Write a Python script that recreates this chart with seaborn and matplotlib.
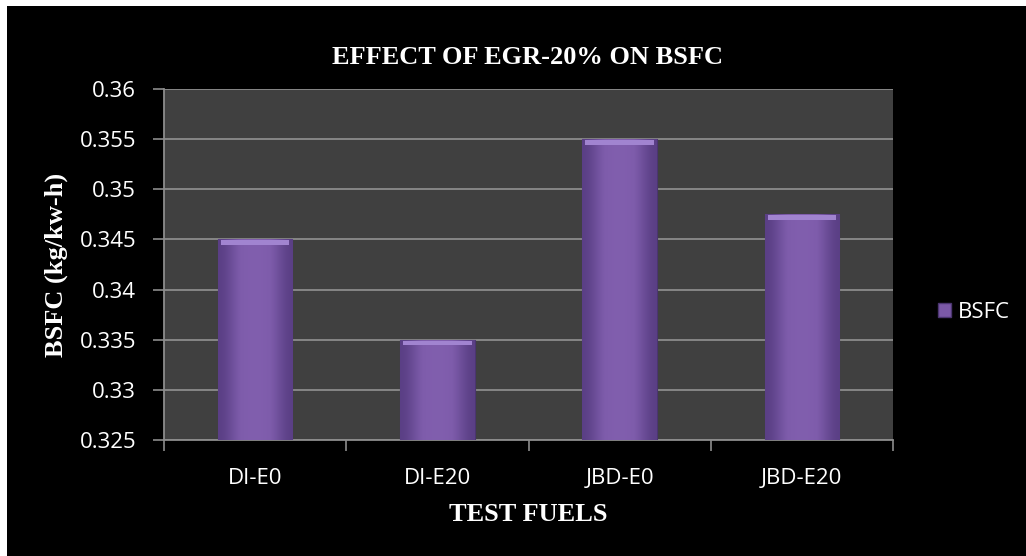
import numpy as np
import pandas as pd
import matplotlib
matplotlib.use("Agg")
import matplotlib.pyplot as plt
import matplotlib.patches as mpatches
import seaborn as sns

fuels = ["DI-E0", "DI-E20", "JBD-E0", "JBD-E20"]
bsfc = [0.345, 0.335, 0.355, 0.3475]
yticks = [0.325, 0.33, 0.335, 0.34, 0.345, 0.35, 0.355, 0.36]
ytick_labels = ["0.325", "0.33", "0.335", "0.34", "0.345", "0.35", "0.355", "0.36"]

df = pd.DataFrame({"fuel": fuels, "BSFC": bsfc})

sns.set_theme(style="dark")
serif = ["Liberation Serif", "DejaVu Serif"]
sans = ["Open Sans", "DejaVu Sans"]

W, H = 1026, 556
fig = plt.figure(figsize=(W / 100, H / 100), dpi=100, facecolor="white")
# black chart area inside a thin white margin
fig.patches.append(mpatches.Rectangle((7 / W, 0), 1 - 7 / W, 1 - 6 / H,
                                      transform=fig.transFigure,
                                      facecolor="black", edgecolor="none", zorder=-10))

ax = fig.add_axes([164 / W, (H - 440) / H, (893 - 164) / W, (440 - 89) / H])
ax.set_facecolor("#404040")

bar_color = "#7b59a7"
sns.barplot(data=df, x="fuel", y="BSFC", color=bar_color, width=0.41,
            ax=ax, zorder=3, edgecolor="#4b3570", linewidth=0.8)

ymin, ymax = 0.325, 0.36
ax.set_xlim(-0.5, len(fuels) - 0.5)
ax.set_ylim(ymin, ymax)

# soft bevel: horizontal shading across each bar plus a light top cap
grad = np.array([[0.0, 0.35, 0.6, 0.7, 0.6, 0.35, 0.0]])
cmap = matplotlib.colors.LinearSegmentedColormap.from_list(
    "bevel", ["#5a3f85", "#7e5cab", "#8663b3"])
for p in list(ax.patches):
    x0, w = p.get_x(), p.get_width()
    top = p.get_y() + p.get_height()
    clip = mpatches.Rectangle((x0, ymin), w, top - ymin, transform=ax.transData)
    im = ax.imshow(grad, cmap=cmap, aspect="auto", extent=(x0, x0 + w, ymin, top),
                   zorder=3.5, interpolation="bicubic", vmin=0, vmax=1)
    im.set_clip_path(clip)
    cap = mpatches.Rectangle((x0 + w * 0.04, top - 0.00055), w * 0.92, 0.00045,
                             facecolor="#a184d0", edgecolor="none", zorder=4)
    ax.add_patch(cap)

ax.set_xlim(-0.5, len(fuels) - 0.5)
ax.set_ylim(ymin, ymax)
ax.set_yticks(yticks)
ax.set_yticklabels(ytick_labels)
ax.yaxis.grid(True, color="#8c8c8c", linewidth=1.3, zorder=1)
ax.xaxis.grid(False)
ax.set_axisbelow(True)

for side in ["top", "right"]:
    ax.spines[side].set_visible(False)
for side in ["left", "bottom"]:
    ax.spines[side].set_visible(True)
    ax.spines[side].set_color("#8c8c8c")
    ax.spines[side].set_linewidth(1.3)

ax.tick_params(axis="y", which="major", left=True, length=8, width=1.2,
               color="#8c8c8c", labelcolor="white", labelsize=16, pad=12)
ax.tick_params(axis="x", which="major", bottom=False, labelcolor="white",
               labelsize=16, pad=14)
ax.set_xticks(np.arange(-0.5, len(fuels)), minor=True)
ax.tick_params(axis="x", which="minor", bottom=True, length=8, width=1.2,
               color="#8c8c8c", direction="out")
for lab in ax.get_xticklabels() + ax.get_yticklabels():
    lab.set_family(sans)

ax.set_xlabel("TEST FUELS", family=serif, fontweight="bold", fontsize=19,
              color="white", labelpad=10)
ax.set_ylabel("BSFC (kg/kw-h)", family=serif, fontweight="bold", fontsize=19,
              color="white", labelpad=8)
fig.text(528 / W, 1 - 57 / H, "EFFECT OF EGR-20% ON BSFC", family=serif,
         fontweight="bold", fontsize=19, color="white", ha="center", va="center")

handle = mpatches.Patch(facecolor=bar_color, edgecolor="#4b3570", label="BSFC")
leg = fig.legend(handles=[handle], loc="center left",
                 bbox_to_anchor=(918 / W, 1 - 312 / H), frameon=False,
                 handlelength=0.6, handleheight=0.6, handletextpad=0.3,
                 prop={"family": sans, "size": 16})
for t in leg.get_texts():
    t.set_color("white")

fig.savefig("out.png", dpi=100, facecolor=fig.get_facecolor())
